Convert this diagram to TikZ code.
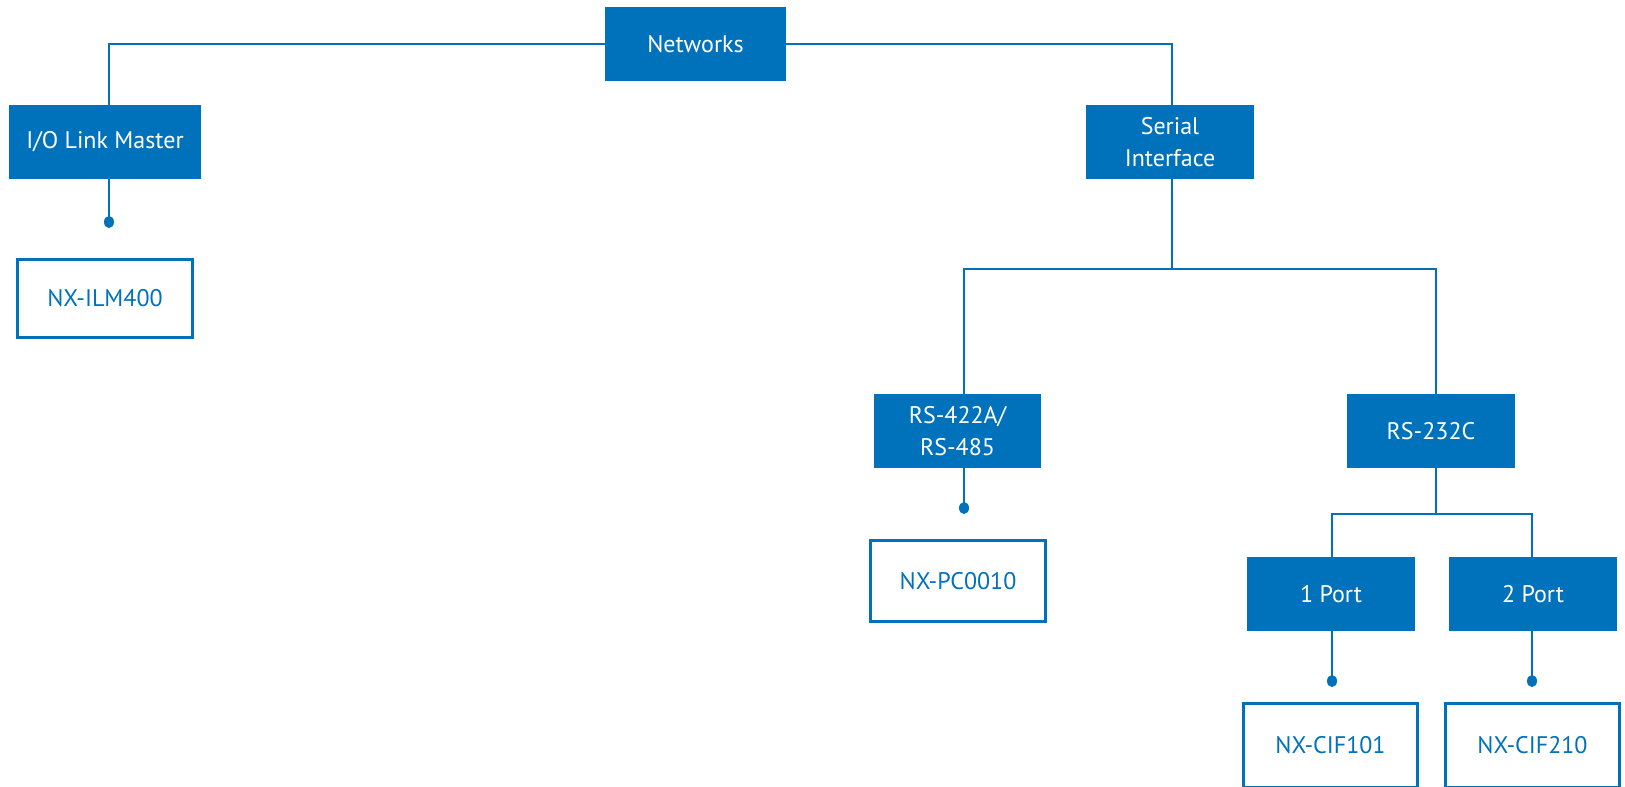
\documentclass[tikz,border=0pt]{standalone}
\usepackage{fontspec}
\setmainfont{PT Sans}
\definecolor{oblue}{RGB}{0,114,188}
\begin{document}
\begin{tikzpicture}[x=1pt,y=-1pt,
  catbox/.style={rectangle, fill=oblue, text=white, inner sep=0pt, align=center, font=\fontsize{24}{32}\selectfont},
  prodbox/.style={rectangle, draw=oblue, line width=3pt, fill=white, text=oblue, inner sep=0pt, align=center, font=\fontsize{24}{32}\selectfont},
  link/.style={draw=oblue, line width=2.5pt},
  enddot/.style={fill=oblue}]
\useasboundingbox (0,0) rectangle (1625,787);
% category boxes
\node[catbox, minimum width=181pt, minimum height=74pt] (net) at (695.5,44) {Networks};
\node[catbox, minimum width=192pt, minimum height=74pt] (iol) at (105,142) {I/O Link Master};
\node[catbox, minimum width=168pt, minimum height=74pt] (ser) at (1170,142) {Serial\\Interface};
\node[catbox, minimum width=167pt, minimum height=74pt] (rs422) at (957.5,431) {RS-422A/\\RS-485};
\node[catbox, minimum width=168pt, minimum height=74pt] (rs232) at (1431,431) {RS-232C};
\node[catbox, minimum width=168pt, minimum height=74pt] (p1) at (1331,594) {1 Port};
\node[catbox, minimum width=168pt, minimum height=74pt] (p2) at (1533,594) {2 Port};
% product boxes
\node[prodbox, minimum width=175pt, minimum height=78pt] (ilm) at (105,298.5) {NX-ILM400};
\node[prodbox, minimum width=175pt, minimum height=81pt] (pc) at (958,581) {NX-PC0010};
\node[prodbox, minimum width=174pt, minimum height=84pt] (cif1) at (1330.5,745) {NX-CIF101};
\node[prodbox, minimum width=174pt, minimum height=84pt] (cif2) at (1532.5,745) {NX-CIF210};
% junction coordinates
\coordinate (jser) at (1172,269);
\coordinate (jrs) at (1436,514);
\coordinate (d1) at (109,222);
\coordinate (d2) at (964,508);
\coordinate (d3) at (1332,681);
\coordinate (d4) at (1532,681);
% connectors
\draw[link] (net.west) -| ([xshift=4pt]iol.north);
\draw[link] (net.east) -| ([xshift=2pt]ser.north);
\draw[link] ([xshift=2pt]ser.south) -- (jser);
\draw[link] ([xshift=6.5pt]rs422.north) |- (jser) -| ([xshift=5pt]rs232.north);
\draw[link] ([xshift=5pt]rs232.south) -- (jrs);
\draw[link] ([xshift=1pt]p1.north) |- (jrs) -| ([xshift=-1pt]p2.north);
\draw[link] ([xshift=4pt]iol.south) -- (d1);
\draw[link] ([xshift=6.5pt]rs422.south) -- (d2);
\draw[link] ([xshift=1pt]p1.south) -- (d3);
\draw[link] ([xshift=-1pt]p2.south) -- (d4);
\foreach \d in {d1,d2,d3,d4} \fill[enddot] (\d) ellipse (5pt and 6pt);
\end{tikzpicture}
\end{document}
